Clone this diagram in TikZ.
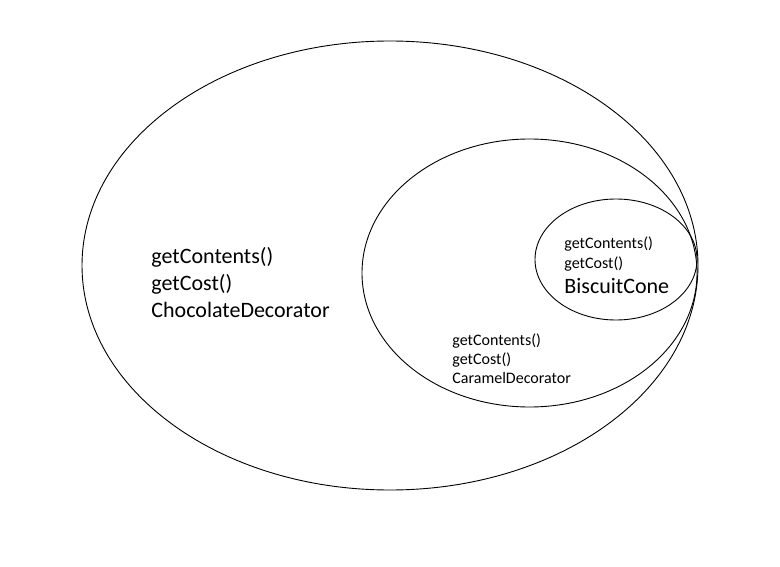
\documentclass[tikz,border=0pt]{standalone}
\usepackage{fontspec}
\setmainfont{Carlito}
\tikzset{
  biglabel/.style={font=\fontsize{22}{26}\selectfont, anchor=base west, inner sep=0pt},
  smalllabel/.style={font=\fontsize{16}{19}\selectfont, anchor=base west, inner sep=0pt}
}
\begin{document}
\begin{tikzpicture}[x=1pt, y=-1pt, line width=0.9pt]
        \useasboundingbox (0,0) rectangle (780,567);

        % the three decorators, one inside the other
        \draw (390,265.5) ellipse (308 and 224.5);
        \draw (529.5,273) ellipse (167.5 and 134);
        \draw (616,259.5) ellipse (81 and 60.5);

        % ChocolateDecorator
        \node[biglabel] (chocA) at (151,264) {getContents()};
        \node[biglabel] (chocB) at (151,290.5) {getCost()};
        \node[biglabel] (chocC) at (151,317) {ChocolateDecorator};

        % CaramelDecorator
        \node[smalllabel] (caraA) at (452,345) {getContents()};
        \node[smalllabel] (caraB) at (452,364) {getCost()};
        \node[smalllabel] (caraC) at (452,383) {CaramelDecorator};

        % BiscuitCone
        \node[smalllabel] (coneA) at (564,249) {getContents()};
        \node[smalllabel] (coneB) at (564,269) {getCost()};
        \node[biglabel] (coneC) at (564,293) {BiscuitCone};
    \end{tikzpicture}
\end{document}
